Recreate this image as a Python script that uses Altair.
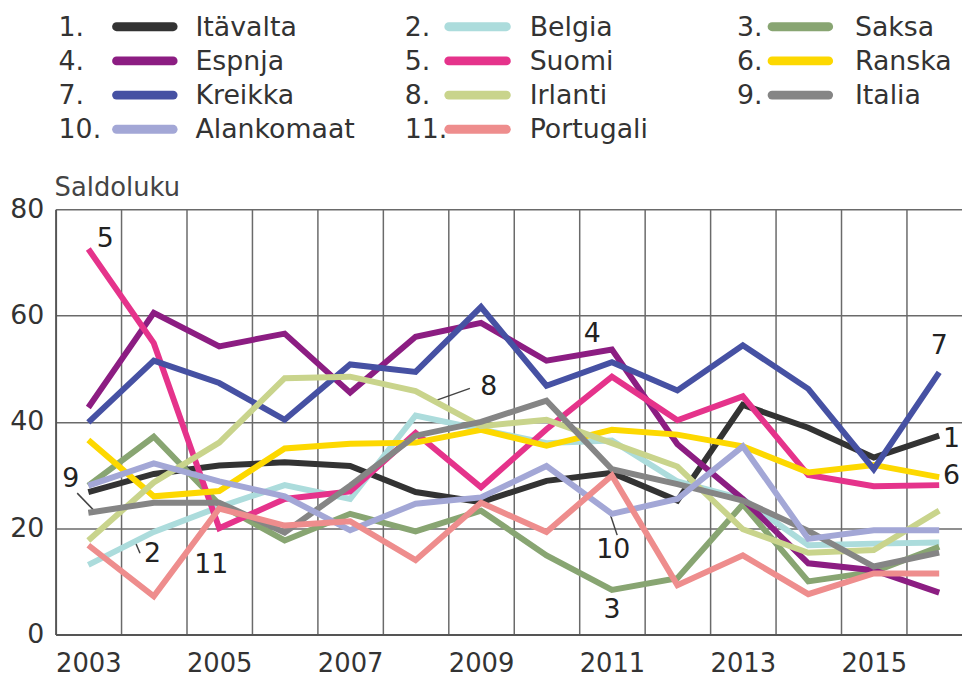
import altair as alt
import pandas as pd

# ---------------- data ----------------
years = list(range(2003, 2017))
numbers = ["1.", "2.", "3.", "4.", "5.", "6.", "7.", "8.", "9.", "10.", "11."]
countries = ["Itävalta", "Belgia", "Saksa", "Espnja", "Suomi", "Ranska",
             "Kreikka", "Irlanti", "Italia", "Alankomaat", "Portugali"]
colors = ["#333333", "#acdcdc", "#88a572", "#8c1d82", "#e5338b", "#fdd800",
          "#4651a3", "#c9d48c", "#858585", "#a3a7d6", "#ee8d8d"]

itavalta   = [26.8, 30.2, 31.8, 32.4, 31.7, 26.8, 24.9, 28.9, 30.4, 25.2, 43.2, 38.9, 33.3, 37.4]
belgia     = [13.1, 19.3, 24.0, 28.1, 25.5, 41.2, 38.6, 36.0, 36.5, 28.8, 25.5, 16.8, 17.1, 17.3]
saksa      = [28.0, 37.2, 24.5, 17.7, 22.7, 19.4, 23.3, 14.9, 8.4, 10.6, 24.5, 10.0, 11.8, 16.5]
espnja     = [42.7, 60.5, 54.2, 56.6, 45.5, 56.0, 58.6, 51.5, 53.6, 35.8, 25.5, 13.4, 12.1, 7.9]
suomi      = [72.5, 54.8, 20.0, 25.5, 26.9, 37.9, 27.7, 38.6, 48.5, 40.3, 44.8, 30.0, 27.9, 28.1]
ranska     = [36.6, 26.0, 27.0, 35.0, 35.9, 36.1, 38.5, 35.5, 38.5, 37.6, 35.4, 30.5, 31.9, 29.6]
kreikka    = [39.9, 51.5, 47.3, 40.4, 50.8, 49.4, 61.6, 46.8, 51.2, 45.9, 54.4, 46.2, 31.1, 49.3]
irlanti    = [17.7, 28.6, 36.1, 48.2, 48.5, 45.8, 39.2, 40.4, 36.0, 31.6, 19.8, 15.4, 15.9, 23.3]
italia     = [22.9, 24.8, 24.8, 19.2, 28.0, 37.4, 40.0, 44.0, 31.1, 28.3, 25.2, 19.5, 12.8, 15.4]
alankomaat = [28.0, 32.2, 28.8, 26.0, 19.6, 24.6, 25.8, 31.7, 22.7, 25.5, 35.4, 18.0, 19.6, 19.6]
portugali  = [16.8, 7.2, 23.7, 20.5, 21.3, 14.0, 24.8, 19.3, 29.9, 9.3, 14.9, 7.6, 11.5, 11.5]

series = [itavalta, belgia, saksa, espnja, suomi, ranska,
          kreikka, irlanti, italia, alankomaat, portugali]

# in-chart labels (position in data units: year, value)
ann_text  = ["5", "4", "7", "1", "6", "8", "9", "2", "11", "10", "3"]
ann_year  = [2003.26, 2010.70, 2016.0, 2016.19, 2016.19, 2009.12, 2002.73, 2003.98, 2004.88, 2011.02, 2011.0]
ann_value = [74.3, 56.5, 54.2, 36.7, 29.9, 46.6, 29.3, 15.2, 13.1, 15.9, 4.7]

# leader lines
lead_x1 = [2002.83, 2003.71, 2008.26, 2010.98]
lead_y1 = [26.6, 17.6, 43.8, 22.4]
lead_x2 = [2003.08, 2003.79, 2008.83, 2011.08]
lead_y2 = [23.4, 15.3, 46.3, 18.7]

y_ticks = [0, 20, 40, 60, 80]

# ---------------- tables ----------------
rows = []
for i, (name, vals) in enumerate(zip(countries, series)):
    for yr, v in zip(years, vals):
        rows.append({"country": name, "k": i, "year": yr, "value": v})
df = pd.DataFrame(rows)

ann_df = pd.DataFrame({"t": ann_text, "year": ann_year, "value": ann_value})
lead_df = pd.DataFrame({"x1": lead_x1, "y1": lead_y1, "x2": lead_x2, "y2": lead_y2})

half_years = [y + 0.5 for y in years[:-1]]
x_values = sorted(years[::2] + half_years)

FONT = "DejaVu Sans"
PLOT_W, PLOT_H = 914, 429
X_DOMAIN = [2002.5, 2002.5 + PLOT_W / 66.0]

# legend layout (pixels relative to plot origin)
NUM_X = [3, 352, 687]
SW_X = [(57, 123), (392, 459), (718, 784)]
LAB_X = [141, 478, 806]
ROW_Y0, ROW_DY = -185, 34.5

leg_rows = []
for i, (num, name, col) in enumerate(zip(numbers, countries, colors)):
    c, r = i % 3, i // 3
    cy = ROW_Y0 + r * ROW_DY
    leg_rows.append({"num": num, "name": name, "color": col,
                     "nx": NUM_X[c], "sx1": SW_X[c][0] + 4.5, "sx2": SW_X[c][1] - 4.5,
                     "lx": LAB_X[c], "ty": cy + 10, "sy": cy + 1})
leg_df = pd.DataFrame(leg_rows)

# ---------------- chart ----------------
x_enc = alt.X(
    "year:Q",
    scale=alt.Scale(domain=X_DOMAIN, nice=False, zero=False),
    axis=alt.Axis(
        values=x_values,
        labelExpr="datum.value % 1 === 0 ? toString(datum.value) : ''",
        gridOpacity={"condition": {"test": "datum.value % 1 === 0", "value": 0}, "value": 1},
        grid=True, gridColor="#6a6a6a", gridWidth=1.5,
        ticks=False, tickSize=0,
        domain=True, domainColor="#555555", domainWidth=2,
        labelFont=FONT, labelFontSize=26, labelColor="#333333",
        labelPadding=16, labelOverlap=False, labelFlush=False, title=None,
    ),
)
y_enc = alt.Y(
    "value:Q",
    scale=alt.Scale(domain=[0, 80], nice=False, zero=True),
    axis=alt.Axis(
        values=y_ticks, grid=True, gridColor="#6a6a6a", gridWidth=1.5,
        ticks=False, tickSize=0,
        domain=True, domainColor="#555555", domainWidth=2,
        labelFont=FONT, labelFontSize=27, labelColor="#333333",
        labelPadding=12, title=None,
    ),
)

lines = alt.Chart(df).mark_line(strokeWidth=6).encode(
    x=x_enc,
    y=y_enc,
    color=alt.Color("country:N", scale=alt.Scale(domain=countries, range=colors), legend=None),
    order=alt.Order("year:Q"),
)

leaders = alt.Chart(lead_df).mark_rule(strokeWidth=1.5, color="#444444").encode(
    x="x1:Q", y="y1:Q", x2="x2:Q", y2="y2:Q"
)

ann = alt.Chart(ann_df).mark_text(
    font=FONT, fontSize=27, color="#222222", align="center", baseline="middle"
).encode(x="year:Q", y="value:Q", text="t:N")

title = alt.Chart(pd.DataFrame({"t": ["Saldoluku"]})).mark_text(
    font=FONT, fontSize=26, color="#444444", align="left", baseline="alphabetic"
).encode(x=alt.value(-1), y=alt.value(-13), text="t:N")

main = alt.layer(leaders, lines, ann, title)

leg_num = alt.Chart(leg_df).mark_text(
    font=FONT, fontSize=27, color="#333333", align="left", baseline="alphabetic"
).encode(
    x=alt.X("nx:Q", scale=None, axis=None),
    y=alt.Y("ty:Q", scale=None, axis=None),
    text="num:N",
)
leg_sw = alt.Chart(leg_df).mark_rule(strokeWidth=9, strokeCap="round").encode(
    x=alt.X("sx1:Q", scale=None, axis=None),
    x2="sx2:Q",
    y=alt.Y("sy:Q", scale=None, axis=None),
    color=alt.Color("color:N", scale=None),
)
leg_lab = alt.Chart(leg_df).mark_text(
    font=FONT, fontSize=27, color="#333333", align="left", baseline="alphabetic"
).encode(
    x=alt.X("lx:Q", scale=None, axis=None),
    y=alt.Y("ty:Q", scale=None, axis=None),
    text="name:N",
)

chart = alt.layer(main, leg_num, leg_sw, leg_lab).resolve_scale(
    x="independent", y="independent", color="independent"
).properties(
    width=PLOT_W, height=PLOT_H,
    autosize=alt.AutoSizeParams(type="none"),
    padding={"left": 48, "top": 200, "right": 0, "bottom": 46},
    background="white",
).configure_view(stroke=None)

chart.save("out.html", embed_options={"renderer": "svg", "actions": False})
